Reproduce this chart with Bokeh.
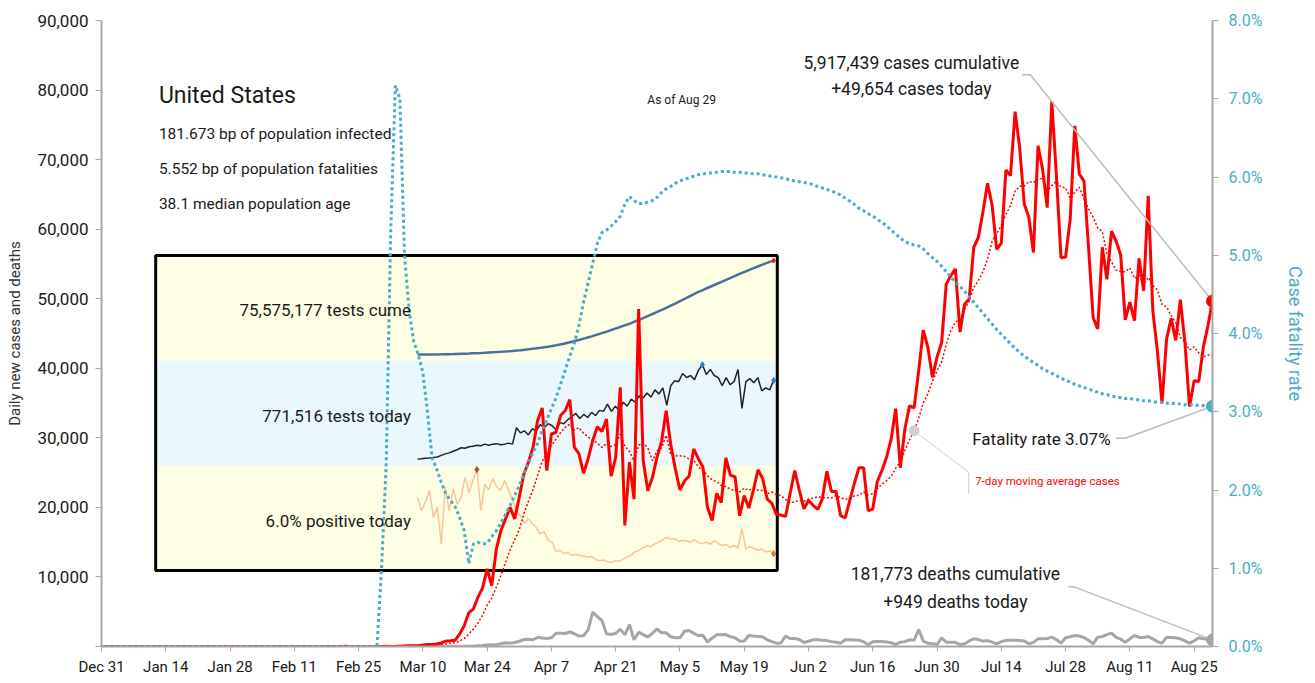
import numpy as np
import pandas as pd
from bokeh.plotting import figure
from bokeh.models import (Range1d, LinearAxis, FixedTicker, NumeralTickFormatter,
                          PrintfTickFormatter, ColumnDataSource, Label)
from bokeh.embed import file_html
from bokeh.resources import INLINE

FONT = "Roboto"

# ---------------- data (daily, starting Dec 31 2019) ----------------
start_date = "2019-12-31"

cases_dec = [0]
cases_jan = [0, 0, 0, 0, 0, 0, 0, 0, 0, 0, 0, 0, 0, 0, 0, 0, 0, 0, 0, 0,
             1, 0, 0, 1, 0, 3, 0, 0, 0, 0, 1]
cases_feb = [1, 1, 3, 0, 0, 0, 0, 0, 0, 1, 0, 0, 1, 0, 0, 0, 0, 0, 0, 0,
             0, 19, 0, 0, 18, 0, 0, 0, 6]
cases_mar = [3, 20, 14, 22, 34, 74, 105, 95, 121, 200, 271, 287, 351, 511, 777, 823,
             887, 1766, 2988, 4835, 5400, 7100, 8400, 11150, 8750, 14000, 16650,
             18350, 20000, 18350, 21450]
cases_apr = [24800, 26500, 28650, 32500, 34300, 25300, 30550, 30800, 33200, 33900,
             35500, 28650, 27700, 24900, 27000, 29600, 31600, 30900, 32700, 24500,
             27200, 37250, 17400, 26500, 21200, 48500, 26700, 22400, 24300, 27200]
cases_may = [29500, 33900, 29000, 25500, 22500, 23800, 24500, 28400, 27000, 25800,
             20000, 18100, 22000, 20700, 27100, 24600, 24400, 18800, 21700, 19900,
             22500, 25400, 24200, 21200, 20600, 19000, 18900, 18700, 22000, 25300, 22500]
cases_jun = [19800, 21000, 20300, 19700, 21200, 25200, 22300, 22300, 18800, 18500,
             21000, 23500, 25700, 25700, 19500, 19800, 23750, 25300, 27200, 29800,
             34200, 25700, 31300, 34600, 34300, 39650, 45500, 43000, 38700, 41600]
cases_jul = [43700, 52100, 53300, 54300, 45200, 49200, 49950, 57400, 58800, 62500,
             66600, 63400, 57100, 58000, 68500, 67700, 76900, 71700, 63600, 61700,
             56650, 72000, 68600, 63100, 78350, 67700, 55900, 56000, 61400, 74850, 67900]
cases_aug = [66950, 57400, 47300, 45650, 57400, 52800, 59700, 58300, 56300, 46950,
             49500, 46850, 55800, 51150, 64800, 48300, 42500, 34950, 44200, 47200,
             44000, 49850, 43700, 34500, 38200, 38100, 43000, 46100, 49654]

deaths_dec = [0]
deaths_jan = [0, 0, 0, 0, 0, 0, 0, 0, 0, 0, 0, 0, 0, 0, 0, 0, 0, 0, 0, 0,
              0, 0, 0, 0, 0, 0, 0, 0, 0, 0, 0]
deaths_feb = [0, 0, 0, 0, 0, 0, 0, 0, 0, 0, 0, 0, 0, 0, 0, 0, 0, 0, 0, 0,
              0, 0, 0, 0, 0, 0, 0, 0, 0]
deaths_mar = [1, 5, 1, 4, 1, 1, 2, 3, 4, 4, 4, 7, 7, 10, 7, 18, 23, 16, 40, 49, 46,
              113, 141, 225, 247, 268, 402, 525, 484, 573, 758]
deaths_apr = [1000, 1049, 968, 1320, 1212, 1165, 1255, 1906, 1922, 1873, 2087, 1831,
              1500, 1541, 2400, 4930, 4300, 3740, 1820, 1720, 1900, 2490, 1670, 3160,
              960, 2060, 1700, 1340, 1900, 2540]
deaths_may = [1960, 1960, 1400, 1250, 1250, 2200, 2300, 1900, 1580, 1600, 620, 1200,
              1680, 1700, 1720, 1400, 1250, 770, 800, 1580, 1500, 1450, 1390, 960, 700,
              480, 500, 1490, 1150, 1150, 1000]
deaths_jun = [575, 750, 960, 960, 900, 850, 700, 620, 480, 960, 960, 950, 900, 700, 240,
              670, 720, 720, 650, 550, 290, 620, 700, 960, 900, 2440, 770, 480, 400, 290]
deaths_jul = [1250, 620, 620, 600, 290, 400, 800, 1100, 1000, 770, 850, 620, 380, 700,
              860, 900, 900, 850, 800, 380, 600, 1100, 1100, 1150, 1340, 1000, 480, 1250,
              1400, 1580, 1500]
deaths_aug = [1300, 900, 380, 1340, 1440, 1700, 1920, 1300, 1050, 620, 1100, 1580, 1300,
              1300, 1440, 1100, 700, 480, 1340, 1300, 1250, 1100, 800, 480, 800, 1250,
              1100, 1050, 949]

# case fatality rate (%), cumulative deaths / cumulative cases
cfr_dec = [0]
cfr_jan = [0, 0, 0, 0, 0, 0, 0, 0, 0, 0, 0, 0, 0, 0, 0, 0, 0, 0, 0, 0,
           0, 0, 0, 0, 0, 0, 0, 0, 0, 0, 0]
cfr_feb = [0, 0, 0, 0, 0, 0, 0, 0, 0, 0, 0, 0, 0, 0, 0, 0, 0, 0, 0, 0,
           0, 0, 0, 0, 0, 0, 0, 0, 0]
cfr_mar = [1.0, 2.3, 5.3, 7.17, 7.0, 5.0, 4.3, 3.9, 3.73, 3.5, 3.0, 2.41, 2.27, 2.1,
           1.95, 1.87, 1.79, 1.65, 1.48, 1.06, 1.31, 1.33, 1.31, 1.32, 1.40, 1.48, 1.58,
           1.69, 1.80, 1.93, 2.06]
cfr_apr = [2.20, 2.35, 2.48, 2.60, 2.76, 2.90, 3.04, 3.18, 3.35, 3.53, 3.71, 3.88, 4.10,
           4.40, 4.65, 4.90, 5.15, 5.29, 5.32, 5.37, 5.43, 5.50, 5.65, 5.75, 5.70, 5.66,
           5.66, 5.68, 5.70, 5.74]
cfr_may = [5.80, 5.85, 5.88, 5.92, 5.95, 5.97, 5.99, 6.01, 6.03, 6.04, 6.05, 6.05, 6.06,
           6.07, 6.07, 6.07, 6.06, 6.06, 6.05, 6.05, 6.04, 6.04, 6.03, 6.02, 6.01, 6.00,
           5.99, 5.98, 5.96, 5.95, 5.94]
cfr_jun = [5.93, 5.92, 5.90, 5.88, 5.86, 5.84, 5.82, 5.80, 5.77, 5.73, 5.69, 5.65, 5.60,
           5.57, 5.53, 5.50, 5.46, 5.42, 5.38, 5.32, 5.27, 5.22, 5.17, 5.15, 5.13, 5.12,
           5.08, 5.02, 4.97, 4.92]
cfr_jul = [4.86, 4.79, 4.72, 4.66, 4.60, 4.54, 4.47, 4.40, 4.33, 4.26, 4.19, 4.12, 4.05,
           3.99, 3.93, 3.87, 3.81, 3.76, 3.71, 3.67, 3.63, 3.59, 3.55, 3.52, 3.49, 3.46,
           3.43, 3.40, 3.38, 3.35, 3.33]
cfr_aug = [3.31, 3.29, 3.27, 3.25, 3.23, 3.22, 3.20, 3.19, 3.18, 3.17, 3.17, 3.16, 3.15,
           3.14, 3.14, 3.13, 3.12, 3.12, 3.11, 3.11, 3.10, 3.10, 3.09, 3.09, 3.09, 3.08,
           3.08, 3.07, 3.07]

total_cases = 5917439
total_deaths = 181773

tick_labels = ["Dec 31", "Jan 14", "Jan 28", "Feb 11", "Feb 25", "Mar 10", "Mar 24",
               "Apr 7", "Apr 21", "May 5", "May 19", "Jun 2", "Jun 16", "Jun 30",
               "Jul 14", "Jul 28", "Aug 11", "Aug 25"]
tick_dates = ["2019-12-31", "2020-01-14", "2020-01-28", "2020-02-11", "2020-02-25",
              "2020-03-10", "2020-03-24", "2020-04-07", "2020-04-21", "2020-05-05",
              "2020-05-19", "2020-06-02", "2020-06-16", "2020-06-30", "2020-07-14",
              "2020-07-28", "2020-08-11", "2020-08-25"]

# inset: testing, every second day from Mar 2 to Aug 29
tests_start = "2020-03-02"
tests_cume_m = [0.00, 0.01, 0.02, 0.04, 0.06, 0.09, 0.13, 0.19, 0.26, 0.35, 0.45, 0.57,
                0.69, 0.81, 0.94, 1.07, 1.26, 1.46, 1.67, 1.88, 2.0, 2.2, 2.42, 2.66,
                2.92, 3.2, 3.5, 3.82, 4.17, 4.55, 4.96, 5.4, 5.85, 6.3, 6.8, 7.4, 8.0,
                8.7, 9.5, 10.3, 11.1, 11.9, 12.8, 13.7, 14.6, 15.6, 16.6, 17.6, 18.6,
                19.7, 20.8, 21.9, 23.0, 24.1, 25.3, 26.6, 27.9, 29.2, 30.6, 32.0, 33.4,
                34.9, 36.3, 37.8, 39.3, 40.8, 42.4, 44.0, 45.5, 47.1, 48.7, 50.3, 51.6,
                53.1, 54.5, 55.9, 57.3, 58.7, 60.1, 61.5, 62.9, 64.3, 65.6, 66.9, 68.2,
                69.5, 70.8, 72.1, 73.3, 74.5, 75.575177]
tests_daily_k = [5, 8, 12, 15, 20, 25, 40, 55, 65, 80, 95, 115, 110, 125, 130, 140, 135,
                 150, 140, 150, 155, 145, 150, 160, 150, 310, 260, 280, 240, 300, 280, 340,
                 310, 350, 330, 290, 360, 350, 390, 420, 450, 400, 440, 410, 460, 430, 480,
                 470, 540, 470, 520, 480, 560, 520, 590, 560, 620, 600, 650, 610, 680, 640,
                 700, 530, 720, 770, 760, 840, 800, 820, 780, 870, 925, 830, 880, 820, 800,
                 720, 800, 730, 760, 880, 500, 760, 790, 750, 800, 670, 700, 680, 771.516]
positive_pct = [15.7, 13.4, 15.0, 16.9, 12.3, 14.0, 7.7, 17.5, 13.4, 17.2, 14.5, 15.7,
                19.2, 16.5, 18.6, 20.5, 13.4, 18.0, 17.0, 18.9, 17.5, 16.9, 18.6, 17.0,
                15.2, 13.4, 12.5, 11.2, 12.0, 11.2, 10.5, 9.4, 9.8, 8.3, 8.0, 6.3, 6.6,
                6.0, 6.2, 5.7, 5.9, 5.7, 5.6, 5.4, 5.5, 5.0, 4.8, 4.9, 4.6, 4.5, 4.8, 4.7,
                5.1, 5.4, 5.8, 6.3, 6.6, 7.0, 7.4, 7.2, 7.7, 8.0, 8.4, 8.8, 8.5, 8.6, 8.1,
                8.3, 8.2, 8.0, 8.4, 7.9, 7.7, 8.0, 7.6, 8.3, 7.8, 7.4, 7.6, 7.1, 7.4, 7.0,
                10.3, 6.8, 7.2, 6.9, 6.6, 6.8, 6.3, 6.5, 6.0]

# ---------------- assemble ----------------
cases = cases_dec + cases_jan + cases_feb + cases_mar + cases_apr + cases_may + cases_jun + cases_jul + cases_aug
deaths = deaths_dec + deaths_jan + deaths_feb + deaths_mar + deaths_apr + deaths_may + deaths_jun + deaths_jul + deaths_aug
cfr = cfr_dec + cfr_jan + cfr_feb + cfr_mar + cfr_apr + cfr_may + cfr_jun + cfr_jul + cfr_aug

t0 = pd.Timestamp(start_date)
dates = pd.date_range(t0, periods=len(cases))
day = np.array([(d - t0).days for d in dates], dtype=float)
ma7 = pd.Series(cases, dtype=float).rolling(7).mean()

src = ColumnDataSource(dict(day=day, cases=cases, deaths=deaths, cfr=cfr, ma=ma7))

tdates = pd.date_range(tests_start, periods=len(tests_cume_m), freq="2D")
tday = np.array([(d - t0).days for d in tdates], dtype=float)
tsrc = ColumnDataSource(dict(day=tday, cume=tests_cume_m, daily=tests_daily_k, pos=positive_pct))

last = len(cases) - 1
tick_days = [int((pd.Timestamp(d) - t0).days) for d in tick_dates]

# ---------------- figure ----------------
W, H = 1313, 682
YMAX = 90000
RMAX = 8
p = figure(width=W, height=H, output_backend="svg", toolbar_location=None,
           x_range=Range1d(0, day[last]), y_range=Range1d(0, YMAX),
           min_border_left=101, min_border_right=W - 1212, min_border_top=20,
           min_border_bottom=H - 646,
           background_fill_color="white", border_fill_color="white")
p.outline_line_color = None
p.xgrid.visible = False
p.ygrid.visible = False

p.extra_y_ranges = {"rate": Range1d(0, RMAX),
                    "cume": Range1d(-234.8, 268.6),
                    "daily": Range1d(-1826, 4287),
                    "pos": Range1d(-10.0, 97.9)}
p.extra_x_ranges = {"inset": Range1d(-97.8, 463.9)}

AX = "#A6A6A6"
TEAL = "#4BACC6"
TXT = "#1a1a1a"

xa = p.xaxis[0]
xa.ticker = FixedTicker(ticks=tick_days)
xa.major_label_overrides = {d: l for d, l in zip(tick_days, tick_labels)}
xa.major_label_text_font = FONT
xa.major_label_text_font_size = "15px"
xa.major_label_text_color = TXT
xa.axis_line_color = AX
xa.axis_line_width = 2
xa.major_tick_line_color = AX
xa.major_tick_out = 5
xa.major_tick_in = 0
xa.minor_tick_line_color = None
xa.major_label_standoff = 6

ya = p.yaxis[0]
ya.ticker = FixedTicker(ticks=list(range(0, YMAX + 1, 10000)))
ya.formatter = NumeralTickFormatter(format="0,0")
ya.major_label_overrides = {0: ""}
ya.major_label_text_font = FONT
ya.major_label_text_font_size = "17px"
ya.major_label_text_color = TXT
ya.axis_line_color = AX
ya.axis_line_width = 2
ya.major_tick_line_color = AX
ya.major_tick_out = 6
ya.major_tick_in = 0
ya.minor_tick_line_color = None
ya.major_label_standoff = 7
ya.axis_label = "Daily new cases and deaths"
ya.axis_label_text_font = FONT
ya.axis_label_text_font_size = "15px"
ya.axis_label_text_font_style = "normal"
ya.axis_label_text_color = "#333333"
ya.axis_label_standoff = 10

ra = LinearAxis(y_range_name="rate", ticker=FixedTicker(ticks=list(range(0, RMAX + 1))),
                formatter=PrintfTickFormatter(format="%.1f%%"))
ra.major_label_text_font = FONT
ra.major_label_text_font_size = "16px"
ra.major_label_text_color = TEAL
ra.axis_line_color = AX
ra.axis_line_width = 2
ra.major_tick_line_color = AX
ra.major_tick_out = 6
ra.major_tick_in = 0
ra.minor_tick_line_color = None
ra.major_label_standoff = 10
ra.axis_label = "Case fatality rate"
ra.axis_label_text_font = FONT
ra.axis_label_text_font_size = "18px"
ra.axis_label_text_font_style = "normal"
ra.axis_label_text_color = TEAL
ra.axis_label_standoff = 20
p.add_layout(ra, "right")

# ---------------- inset panel ----------------
BX0, BX1 = 11.8, 147.2
BY = [56200, 41100, 26000, 10930]
YEL, BLU = "#FEFEE4", "#EAF8FE"
p.quad(left=[BX0] * 3, right=[BX1] * 3, top=BY[:3], bottom=BY[1:],
       fill_color=[YEL, BLU, YEL], line_color=None)

p.line("day", "cume", source=tsrc, x_range_name="inset", y_range_name="cume",
       line_color="#4D6F9E", line_width=2.5)
p.line("day", "daily", source=tsrc, x_range_name="inset", y_range_name="daily",
       line_color="#222222", line_width=1.5)
p.line("day", "pos", source=tsrc, x_range_name="inset", y_range_name="pos",
       line_color="#F8C59A", line_width=1.5)

n = len(tday) - 1
ipk = int(np.argmax(tests_daily_k))
ppk = int(np.argmax(positive_pct))
p.scatter([tday[n]], [tests_cume_m[n]], x_range_name="inset", y_range_name="cume",
          size=5, color="#E8202A", marker="diamond")
p.scatter([tday[ipk], tday[n]], [tests_daily_k[ipk], tests_daily_k[n]], x_range_name="inset",
          y_range_name="daily", size=6, color="#2F7FCF", marker="diamond")
p.scatter([tday[ppk]], [positive_pct[ppk]], x_range_name="inset", y_range_name="pos",
          size=6, color="#9C5A2A", marker="diamond")
p.scatter([tday[n]], [positive_pct[n]], x_range_name="inset", y_range_name="pos",
          size=6, color="#D9782F", marker="diamond")

p.quad(left=[BX0], right=[BX1], top=[BY[0]], bottom=[BY[3]], fill_color=None,
       line_color="black", line_width=3)

def lab(x, y, text, size, color=TXT, align="left", baseline="middle", **kw):
    p.add_layout(Label(x=x, y=y, text=text, text_font=FONT, text_font_size=size,
                       text_color=color, text_align=align, text_baseline=baseline, **kw))

lab(67.4, 48450, f"{tests_cume_m[n] * 1e6:,.0f} tests cume", "17px", align="right")
lab(67.4, 33200, f"{tests_daily_k[n] * 1e3:,.0f} tests today", "17px", align="right")
lab(67.4, 18100, f"{positive_pct[n]:.1f}% positive today", "17px", align="right")

# ---------------- main series ----------------
p.line("day", "deaths", source=src, line_color="#A6A6A6", line_width=3)
p.line("day", "ma", source=src, line_color="#FF0000", line_width=1.5, line_dash="2 2")
p.line("day", "cases", source=src, line_color="#FF0000", line_width=3)
p.line("day", "cfr", source=src, y_range_name="rate", line_color=TEAL, line_width=3,
       line_dash="3 3")

# ---------------- annotations ----------------
LEAD = "#BDBDBD"
# cases callout
p.line([200.5, 202.3, day[last]], [82200, 82200, cases[last]], line_color=LEAD, line_width=1.5)
lab(176.4, 83960, f"{total_cases:,} cases cumulative", "17.5px", align="center")
lab(176.4, 80220, f"+{cases[last]:,} cases today", "17.5px", align="center")
# deaths callout
p.line([210.6, 212.0, day[last]], [8630, 8530, deaths[last]], line_color=LEAD, line_width=1.5)
lab(186.0, 10480, f"{total_deaths:,} deaths cumulative", "17.5px", align="center")
lab(186.0, 6450, f"+{deaths[last]:,} deaths today", "17.5px", align="center")
# fatality callout
cfr_y = cfr[last] * YMAX / RMAX
p.line([220.9, 223.0, day[last]], [29950, 29950, cfr_y], line_color=LEAD, line_width=1.5)
lab(219.8, 29860, f"Fatality rate {cfr[last]:.2f}%", "17px", align="right")
# MA callout
ma_day = 177
p.line([ma_day, 188.9], [ma7[ma_day], 25060], line_color="#CFCFCF", line_width=1)
p.line([188.9, 188.9], [25060, 21950], line_color="#CFCFCF", line_width=1)
p.scatter([ma_day], [ma7[ma_day]], size=10, color="#CFCFCF")
lab(190.3, 23770, "7-day moving average cases", "11.5px", color="#FF0000")

# end points
p.scatter([day[last]], [cases[last]], size=12, color="#FF0000")
p.scatter([day[last]], [deaths[last]], size=12, color="#A6A6A6")
p.scatter([day[last]], [cfr[last]], y_range_name="rate", size=12, color=TEAL)

# header texts
lab(12.5, 79200, "United States", "23px")
lab(12.5, 73750, "181.673 bp of population infected", "15.5px")
lab(12.5, 68720, "5.552 bp of population fatalities", "15.5px")
lab(12.5, 63690, "38.1 median population age", "15.5px")
lab(118.9, 78640, "As of Aug 29", "12px")

open("out.html", "w").write(file_html(p, INLINE))
